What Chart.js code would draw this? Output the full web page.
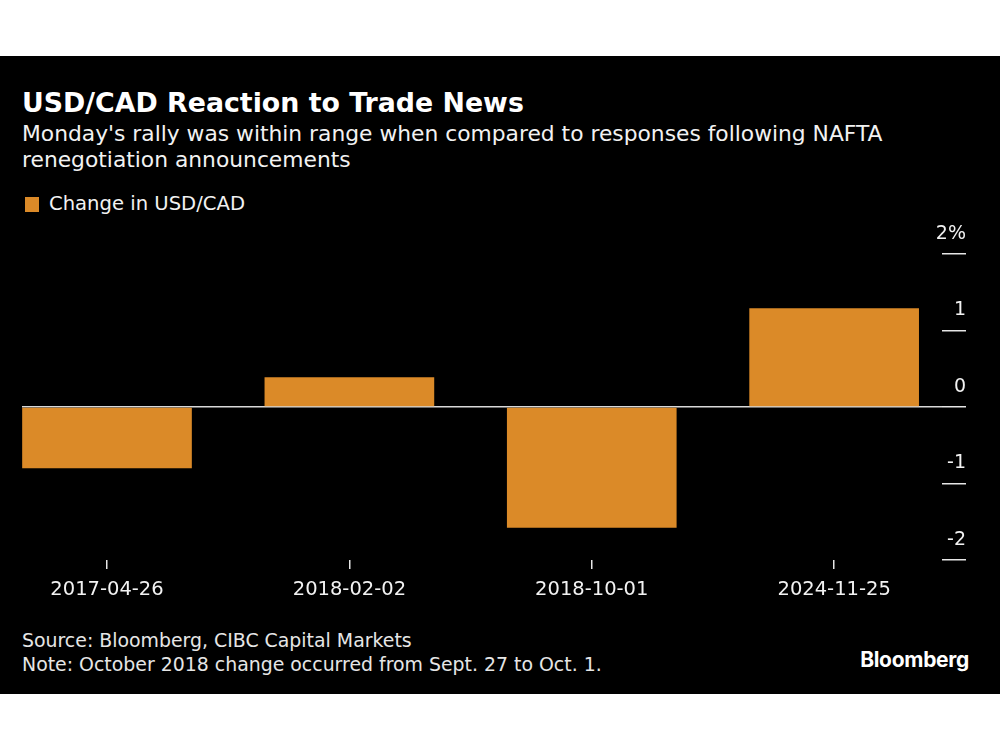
<!DOCTYPE html>
<html>
<head>
<meta charset="utf-8">
<script src="https://cdn.jsdelivr.net/npm/chart.js@4"></script>
<style>
  html, body { margin: 0; padding: 0; background: #fff; }
  body { width: 1000px; height: 750px; position: relative; overflow: hidden;
         font-family: "DejaVu Sans", sans-serif; }
  #panel { position: absolute; left: 0; top: 56px; width: 1000px; height: 638px; background: #000; }
  .txt { position: absolute; left: 22px; color: #fff; white-space: nowrap; }
  #title { top: 87px; font-size: 26.8px; line-height: 32px; font-weight: bold; }
  #sub { top: 121px; font-size: 21.8px; line-height: 26px; color: #f2f2f2; }
  #legend { top: 192px; font-size: 19.6px; line-height: 24px; color: #f2f2f2; }
  #legend span { display: inline-block; width: 14px; height: 15px; margin: 0 10px 0 3px; vertical-align: -2px; }
  #foot { top: 628px; font-size: 18.9px; line-height: 24px; color: #e6e6e6; }
  #logo { position: absolute; right: 31px; top: 647px; color: #fff; font-family: Inter, "DejaVu Sans", sans-serif;
          font-weight: 700; font-size: 21px; line-height: 26px; letter-spacing: -0.3px; }
  #chart { position: absolute; left: 0; top: 0; }
</style>
</head>
<body>
<div id="panel"></div>
<div class="txt" id="title">USD/CAD Reaction to Trade News</div>
<div class="txt" id="sub">Monday's rally was within range when compared to responses following NAFTA<br>renegotiation announcements</div>
<div class="txt" id="legend"></div>
<div class="txt" id="foot">Source: Bloomberg, CIBC Capital Markets<br>Note: October 2018 change occurred from Sept. 27 to Oct. 1.</div>
<div id="logo">Bloomberg</div>
<canvas id="chart" width="1000" height="750"></canvas>
<script>
var dates = ["2017-04-26", "2018-02-02", "2018-10-01", "2024-11-25"];
var changes = [-0.80, 0.39, -1.58, 1.29];
var yTicks = [-2, -1, 0, 1, 2];
var yTickLabels = ["-2", "-1", "0", "1", "2%"];
var seriesName = "Change in USD/CAD";
var barColor = "#db8a28";

var fontFamily = '"DejaVu Sans", sans-serif';

document.getElementById('legend').innerHTML =
    '<span style="background:' + barColor + '"></span>' + seriesName;

var ctx = document.getElementById('chart').getContext('2d');
var chart = new Chart(ctx, {
    type: 'bar',
    data: {
        datasets: [{
            label: seriesName,
            data: dates.map(function (d, i) { return { x: i, y: changes[i] }; }),
            backgroundColor: barColor,
            borderWidth: 0,
            categoryPercentage: 1,
            barPercentage: 0.70
        }]
    },
    options: {
        responsive: false,
        animation: false,
        events: [],
        layout: { padding: { top: 254, left: 22, right: 34, bottom: 150 } },
        plugins: { legend: { display: false }, tooltip: { enabled: false } },
        scales: {
            x: {
                type: 'linear',
                offset: false,
                min: -0.3507,
                max: 3.445,
                afterBuildTicks: function (scale) {
                    scale.ticks = dates.map(function (d, i) { return { value: i }; });
                },
                afterFit: function (scale) { scale.height = 40; },
                border: { display: false },
                grid: { offset: false, drawOnChartArea: false, drawTicks: true, tickLength: 9, tickColor: '#e6e6e6', lineWidth: 1.5 },
                ticks: {
                    padding: 9,
                    color: '#f2f2f2',
                    font: { family: fontFamily, size: 19.5 },
                    maxRotation: 0,
                    autoSkip: false,
                    callback: function (v) { return dates[v]; }
                }
            },
            y: {
                position: 'right',
                min: -2,
                max: 2,
                afterBuildTicks: function (scale) {
                    scale.ticks = yTicks.map(function (v) { return { value: v }; });
                },
                afterFit: function (scale) { scale.width = 24; },
                border: { display: false },
                grid: {
                    drawOnChartArea: true,
                    drawTicks: true,
                    tickLength: 24,
                    lineWidth: 1.5,
                    color: function (c) { return c.tick && c.tick.value === 0 ? '#d9d9d9' : 'rgba(0,0,0,0)'; },
                    tickColor: '#e6e6e6'
                },
                ticks: {
                    // mirrored labels on a right axis are right aligned at left + padding
                    mirror: true,
                    crossAlign: 'near',
                    padding: 24,
                    labelOffset: -20,
                    color: '#f2f2f2',
                    font: { family: fontFamily, size: 19 },
                    callback: function (v) { return yTickLabels[yTicks.indexOf(v)]; }
                }
            }
        }
    }
});
</script>
</body>
</html>
